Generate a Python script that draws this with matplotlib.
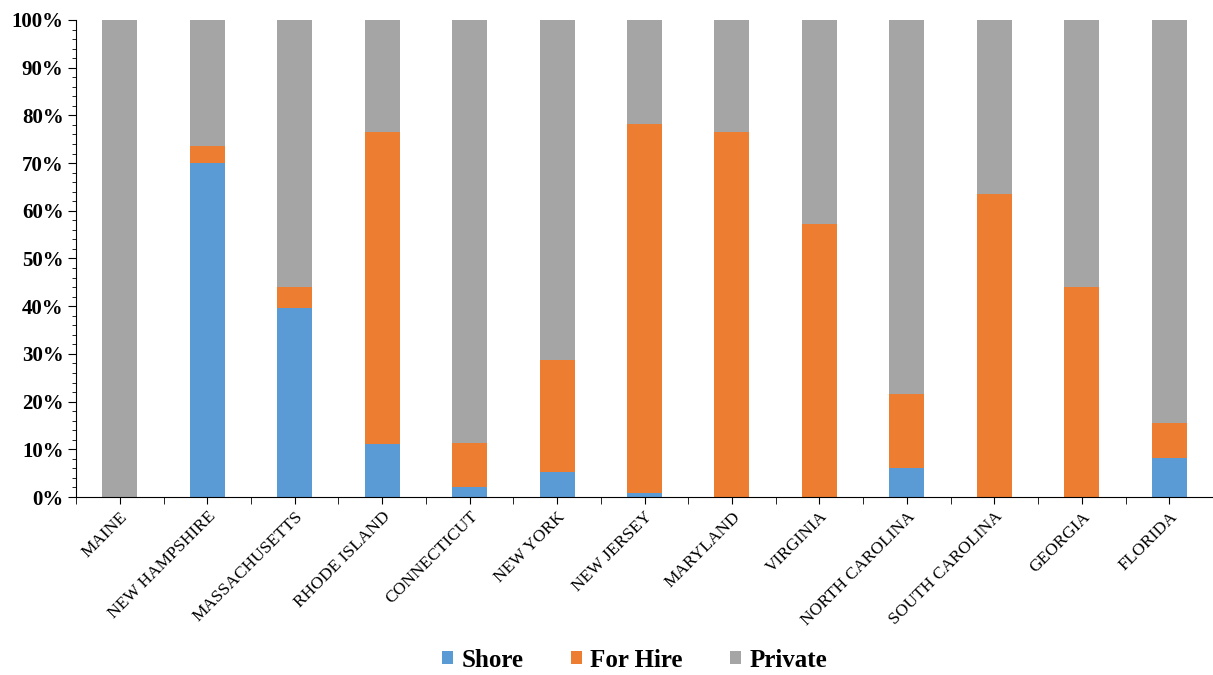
import numpy as np
import matplotlib.pyplot as plt
from matplotlib.ticker import MultipleLocator, PercentFormatter

states = ['MAINE', 'NEW HAMPSHIRE', 'MASSACHUSETTS', 'RHODE ISLAND', 'CONNECTICUT',
          'NEW YORK', 'NEW JERSEY', 'MARYLAND', 'VIRGINIA', 'NORTH CAROLINA',
          'SOUTH CAROLINA', 'GEORGIA', 'FLORIDA']
shore = [0, 70.0, 39.6, 11.2, 2.1, 5.2, 0.8, 0, 0, 6.1, 0, 0, 8.2]
for_hire = [0, 3.6, 4.4, 65.3, 9.2, 23.5, 77.4, 76.5, 57.2, 15.5, 63.5, 44.0, 7.3]
private = [100 - s - f for s, f in zip(shore, for_hire)]

plt.rcParams['font.family'] = ['Liberation Serif', 'DejaVu Serif']

fig = plt.figure(figsize=(12.13, 6.75), dpi=100)
ax = fig.add_axes([0.0627, 0.2637, 0.9373, 0.7067])

x = np.arange(len(states))
w = 0.4
shore_a = np.array(shore)
hire_a = np.array(for_hire)
ax.bar(x, shore_a, w, color='#5B9BD5', label='Shore')
ax.bar(x, hire_a, w, bottom=shore_a, color='#ED7D31', label='For Hire')
ax.bar(x, private, w, bottom=shore_a + hire_a, color='#A5A5A5', label='Private')

ax.set_xlim(-0.5, len(states) - 0.5)
ax.set_ylim(0, 100)
ax.yaxis.set_major_locator(MultipleLocator(10))
ax.yaxis.set_minor_locator(MultipleLocator(2))
ax.yaxis.set_major_formatter(PercentFormatter(decimals=0))
for lab in ax.get_yticklabels():
    lab.set_fontweight('bold')
    lab.set_fontsize(15)

ax.set_xticks(x)
ax.set_xticklabels(states, rotation=45, ha='right', rotation_mode='anchor', fontsize=12.5)
ax.set_xticks(np.arange(len(states) + 1) - 0.5, minor=True)
ax.tick_params(axis='x', which='both', length=5, direction='out')
ax.tick_params(axis='y', which='major', length=6, direction='out', pad=3)
ax.tick_params(axis='y', which='minor', length=3, direction='out')

ax.spines['top'].set_visible(False)
ax.spines['right'].set_visible(False)

leg = fig.legend(loc='center', bbox_to_anchor=(0.523, 0.022), ncol=3, frameon=False,
                 prop={'weight': 'bold', 'size': 18}, handlelength=0.45, handleheight=0.45,
                 handletextpad=0.32, columnspacing=1.9)

fig.savefig('out.png', dpi=100)
